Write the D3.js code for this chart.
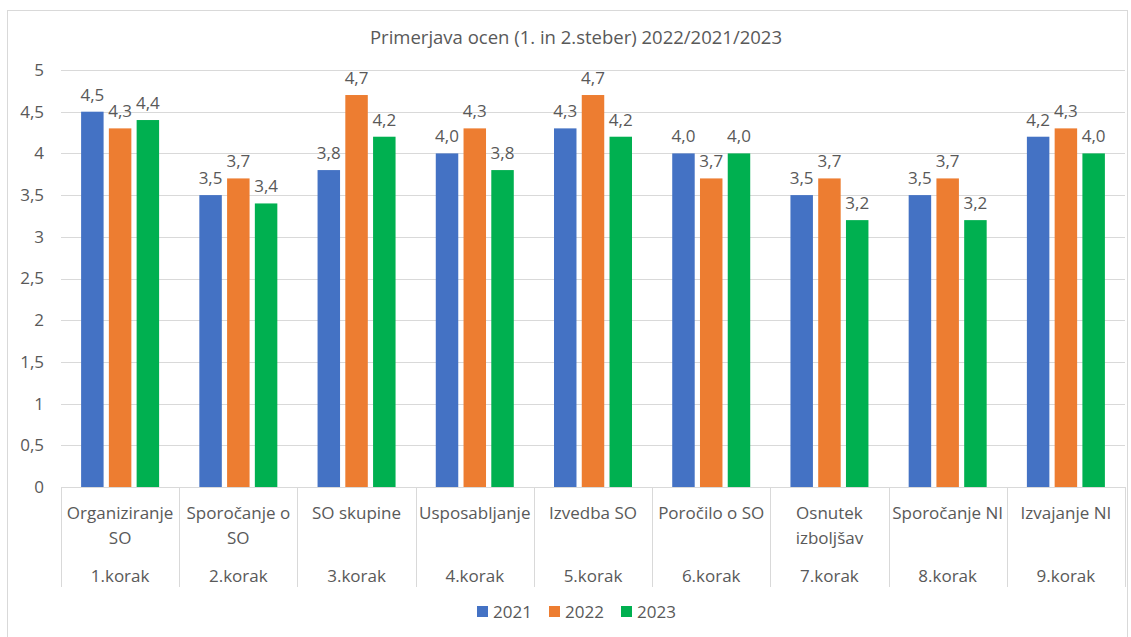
<!DOCTYPE html>
<html lang="en">
<head>
<meta charset="UTF-8">
<title>Primerjava ocen</title>
<style>
body { margin: 0; background: #fff; }
text { font-family: "Open Sans", "Noto Sans", sans-serif; fill: #595959; }
</style>
</head>
<body>
<script src="https://cdn.jsdelivr.net/npm/d3@7/dist/d3.min.js"></script>
<script>
var categories = ["Organiziranje SO", "Sporočanje o SO", "SO skupine", "Usposabljanje", "Izvedba SO",
    "Poročilo o SO", "Osnutek izboljšav", "Sporočanje NI", "Izvajanje NI"];
var steps = ["1.korak", "2.korak", "3.korak", "4.korak", "5.korak", "6.korak", "7.korak", "8.korak", "9.korak"];
var series = ["2021", "2022", "2023"];
var v2021 = [4.5, 3.5, 3.8, 4.0, 4.3, 4.0, 3.5, 3.5, 4.2];
var v2022 = [4.3, 3.7, 4.7, 4.3, 4.7, 3.7, 3.7, 3.7, 4.3];
var v2023 = [4.4, 3.4, 4.2, 3.8, 4.2, 4.0, 3.2, 3.2, 4.0];
var yTicks = [0, 0.5, 1, 1.5, 2, 2.5, 3, 3.5, 4, 4.5, 5];
var colors = ["#4472C4", "#ED7D31", "#00B050"];

var values = [v2021, v2022, v2023];
var W = 1131, H = 637;
var plotLeft = 61, plotRight = 1125, plotTop = 70, plotBottom = 487;
var fs = 17;

var svg = d3.select("body").append("svg").attr("width", W).attr("height", H);

svg.append("rect").attr("x", 7.5).attr("y", 10.5).attr("width", 1120).attr("height", 640)
    .attr("fill", "#fff").attr("stroke", "#d9d9d9");

var fmt = function(v) { return v.toFixed(1).replace(".", ","); };
var fmtTick = function(v) { return String(v).replace(".", ","); };

var x = d3.scaleBand().domain(d3.range(categories.length)).range([plotLeft, plotRight]);
var xs = d3.scaleBand().domain(series).range([x.bandwidth() / 2 - 39, x.bandwidth() / 2 + 39]).paddingInner(0.19);
var y = d3.scaleLinear().domain([0, 5]).range([plotBottom, plotTop]);

// grid
svg.append("g").selectAll("line").data(yTicks.slice(1)).join("line")
    .attr("x1", plotLeft).attr("x2", plotRight)
    .attr("y1", function(d) { return Math.round(y(d)) + 0.5; })
    .attr("y2", function(d) { return Math.round(y(d)) + 0.5; })
    .attr("stroke", "#d9d9d9").attr("stroke-width", 1);

var yAxis = svg.append("g").attr("transform", "translate(" + plotLeft + ",0)")
    .call(d3.axisLeft(y).tickValues(yTicks).tickFormat(fmtTick).tickSize(0).tickPadding(17));
yAxis.select(".domain").remove();
yAxis.selectAll("text").attr("font-size", fs).style("fill", "#595959")
    .attr("font-family", "'Open Sans', 'Noto Sans', sans-serif");

// bars
var groups = svg.append("g").selectAll("g").data(d3.range(categories.length)).join("g")
    .attr("transform", function(i) { return "translate(" + x(i) + ",0)"; });

series.forEach(function(s, si) {
    groups.append("rect")
        .attr("x", xs(s)).attr("width", xs.bandwidth())
        .attr("y", function(i) { return y(values[si][i]); })
        .attr("height", function(i) { return y(0) - y(values[si][i]); })
        .attr("fill", colors[si]);
    groups.append("text")
        .attr("x", xs(s) + xs.bandwidth() / 2)
        .attr("y", function(i) { return y(values[si][i]) - 11; })
        .attr("text-anchor", "middle").attr("font-size", fs)
        .text(function(i) { return fmt(values[si][i]); });
});

// x axis line and separators
svg.append("line").attr("x1", plotLeft).attr("x2", plotRight)
    .attr("y1", plotBottom + 0.5).attr("y2", plotBottom + 0.5)
    .attr("stroke", "#d9d9d9");
var seps = d3.range(categories.length + 1).map(function(i) { return i < categories.length ? x(i) : plotRight; });
svg.append("g").selectAll("line").data(seps).join("line")
    .attr("x1", function(d) { return Math.round(d) + 0.5; })
    .attr("x2", function(d) { return Math.round(d) + 0.5; })
    .attr("y1", plotBottom).attr("y2", 587)
    .attr("stroke", "#d9d9d9");

// category labels (wrapped like the original)
var wrapped = [["Organiziranje", "SO"], ["Sporočanje o", "SO"], ["SO skupine"], ["Usposabljanje"], ["Izvedba SO"],
    ["Poročilo o SO"], ["Osnutek", "izboljšav"], ["Sporočanje NI"], ["Izvajanje NI"]];
groups.each(function(i) {
    var g = d3.select(this);
    wrapped[i].forEach(function(line, li) {
        g.append("text").attr("x", x.bandwidth() / 2).attr("y", 519 + li * 25)
            .attr("text-anchor", "middle").attr("font-size", fs).text(line);
    });
    g.append("text").attr("x", x.bandwidth() / 2).attr("y", 582)
        .attr("text-anchor", "middle").attr("font-size", fs).text(steps[i]);
});

// title
svg.append("text").attr("x", 576).attr("y", 44).attr("text-anchor", "middle")
    .attr("font-size", 18.5).text("Primerjava ocen (1. in 2.steber) 2022/2021/2023");

// legend
var legend = svg.append("g").attr("transform", "translate(477,612)");
series.forEach(function(s, si) {
    var lg = legend.append("g").attr("transform", "translate(" + (si * 72) + ",0)");
    lg.append("rect").attr("x", 0).attr("y", -6).attr("width", 11).attr("height", 11).attr("fill", colors[si]);
    lg.append("text").attr("x", 16).attr("y", 6).attr("font-size", fs).text(s);
});
</script>
</body>
</html>
